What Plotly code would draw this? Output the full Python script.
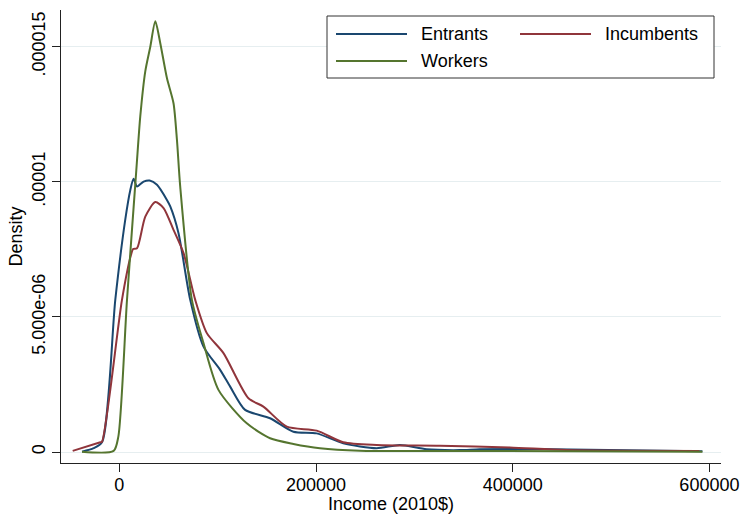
import plotly.graph_objects as go

# ---- data ----
entrants_x = [-37900, -26100, -17600, -4100, 6000, 11200, 14500, 18000, 24700, 30800,
              38300, 48400, 51800, 60200, 72100, 85600, 102500, 112700, 127900, 153300,
              177000, 200700, 227700, 261600, 285300, 312400, 346200, 366500, 420300, 592900]
entrants_y = [0.01e-6, 0.14e-6, 0.36e-6, 5.63e-6, 8.59e-6, 9.70e-6, 10.11e-6, 9.83e-6, 10.01e-6, 10.05e-6,
              9.89e-6, 9.33e-6, 9.09e-6, 8.10e-6, 5.63e-6, 3.90e-6, 3.04e-6, 2.42e-6, 1.56e-6, 1.25e-6,
              0.75e-6, 0.69e-6, 0.32e-6, 0.14e-6, 0.26e-6, 0.10e-6, 0.07e-6, 0.10e-6, 0.11e-6, 0.03e-6]

incumbents_x = [-47400, -19300, -17600, 2700, 11900, 14000, 18000, 26400, 36600, 45000,
                55100, 65300, 77200, 89000, 105900, 131300, 146500, 170300, 200700, 227700,
                261600, 325900, 396900, 454500, 589800]
incumbents_y = [0.04e-6, 0.36e-6, 0.38e-6, 5.63e-6, 7.30e-6, 7.51e-6, 7.54e-6, 8.71e-6, 9.25e-6, 9.03e-6,
                8.22e-6, 7.36e-6, 5.63e-6, 4.40e-6, 3.66e-6, 1.99e-6, 1.68e-6, 0.94e-6, 0.79e-6, 0.36e-6,
                0.26e-6, 0.23e-6, 0.17e-6, 0.07e-6, 0.04e-6]

workers_x = [-37900, -5800, -1000, 7800, 17300, 21300, 26400, 31500, 36600, 41600,
             48400, 55100, 58600, 61900, 73800, 85600, 100800, 129600, 153300, 177000,
             204000, 244600, 346200, 592900]
workers_y = [0.01e-6, 0.04e-6, 0.57e-6, 5.63e-6, 10.44e-6, 12.42e-6, 14.09e-6, 15.0e-6, 15.94e-6, 15.14e-6,
             13.84e-6, 12.91e-6, 11.55e-6, 9.83e-6, 5.63e-6, 4.03e-6, 2.30e-6, 1.06e-6, 0.51e-6, 0.30e-6,
             0.14e-6, 0.05e-6, 0.04e-6, 0.01e-6]

x_tickvals = [0, 200000, 400000, 600000]
x_ticktext = ["0", "200000", "400000", "600000"]
y_tickvals = [0, 5e-6, 1e-5, 1.5e-5]
y_ticktext = ["0", "5.000e-06", ".00001", ".000015"]

series_names = ["Entrants", "Incumbents", "Workers"]
series_colors = ["#1a476f", "#90353b", "#55752f"]

FONT = "Liberation Sans, Arial, Helvetica, sans-serif"
W, H = 742, 514
ML, MR, MT, MB = 61, 21, 10, 51
PW, PH = W - ML - MR, H - MT - MB

def px_x(p):
    return (p - ML) / PW

def px_y(p):
    return 1 - (p - MT) / PH

fig = go.Figure()
for name, xs, ys, col in zip(series_names,
                             [entrants_x, incumbents_x, workers_x],
                             [entrants_y, incumbents_y, workers_y],
                             series_colors):
    fig.add_trace(go.Scatter(x=xs, y=ys, mode="lines", name=name,
                             line=dict(color=col, width=2, shape="spline", smoothing=0.7),
                             showlegend=False, hoverinfo="skip"))

# manual legend (box, sample lines, labels)
shapes = [dict(type="rect", xref="paper", yref="paper",
               x0=px_x(327), x1=px_x(714), y0=px_y(78), y1=px_y(16),
               line=dict(color="#333333", width=1), fillcolor="white", layer="above")]
annotations = []
legend_pos = [(336, 34), (520, 34), (336, 61)]
for (lx, ly), name, col in zip(legend_pos, series_names, series_colors):
    shapes.append(dict(type="line", xref="paper", yref="paper",
                       x0=px_x(lx), x1=px_x(lx + 71), y0=px_y(ly), y1=px_y(ly),
                       line=dict(color=col, width=2), layer="above"))
    annotations.append(dict(text=name, xref="paper", yref="paper",
                            x=px_x(lx + 83), y=px_y(ly), xanchor="left", yanchor="middle",
                            showarrow=False, font=dict(family=FONT, size=18, color="black")))

fig.update_layout(
    template="none",
    width=W, height=H,
    margin=dict(l=ML, r=MR, t=MT, b=MB, pad=0),
    paper_bgcolor="white", plot_bgcolor="white",
    font=dict(family=FONT, size=18, color="black"),
    shapes=shapes, annotations=annotations,
    showlegend=False,
    xaxis=dict(range=[-59300, 611800], tickvals=x_tickvals, ticktext=x_ticktext,
               ticks="outside", ticklen=8, tickcolor="#222", showline=True, linecolor="#222",
               linewidth=1, showgrid=False, zeroline=False, automargin=False,
               ticklabelstandoff=-3,
               title=dict(text="Income (2010$)", standoff=7, font=dict(size=18)),
               tickfont=dict(size=18)),
    yaxis=dict(range=[-4.07e-7, 1.636e-5], tickvals=y_tickvals, ticktext=y_ticktext,
               tickangle=-90, ticks="outside", ticklen=8, tickcolor="#222", showline=True,
               linecolor="#222", linewidth=1, showgrid=True, gridcolor="#e6eef0", gridwidth=1,
               zeroline=False, automargin=False,
               title=dict(text="Density", standoff=1, font=dict(size=18)),
               tickfont=dict(size=18)),
)

fig.write_html("out.html", config={"displayModeBar": False},
               post_script="document.body.style.margin='0';")
